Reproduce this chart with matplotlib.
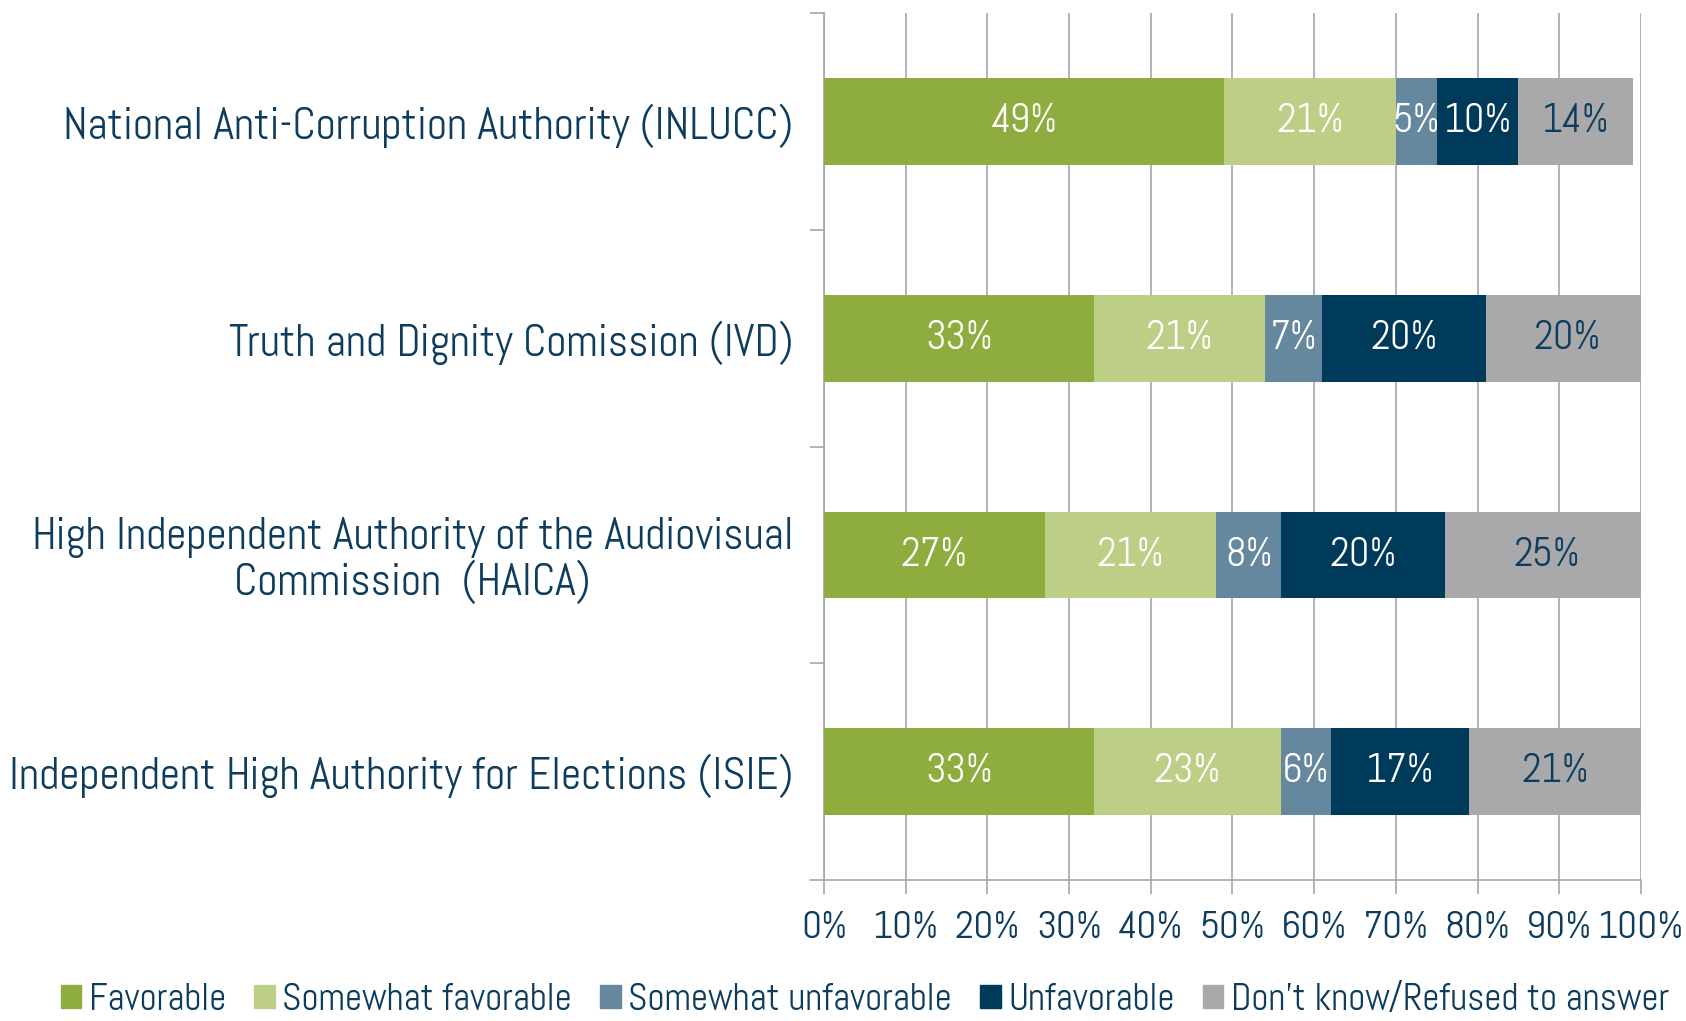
import numpy as np
import matplotlib.pyplot as plt
from matplotlib.patches import Patch

categories = [
    "National Anti-Corruption Authority (INLUCC)",
    "Truth and Dignity Comission (IVD)",
    "High Independent Authority of the Audiovisual\nCommission  (HAICA)",
    "Independent High Authority for Elections (ISIE)",
]
series_names = ["Favorable", "Somewhat favorable", "Somewhat unfavorable",
                "Unfavorable", "Don't know/Refused to answer"]
favorable = [49, 33, 27, 33]
somewhat_fav = [21, 21, 21, 23]
somewhat_unfav = [5, 7, 8, 6]
unfavorable = [10, 20, 20, 17]
dont_know = [14, 20, 25, 21]

colors = ["#8FAD3F", "#BDCF87", "#66889E", "#003A5A", "#A9A9AB"]
label_colors = ["white", "white", "white", "white", "#0D3C5C"]
navy = "#0D3C5C"
grid_c = "#A3A7B3"

plt.rcParams['font.family'] = ['Abel', 'Lato', 'DejaVu Sans']

fig = plt.figure(figsize=(16.86, 10.21), dpi=100)
ax = fig.add_axes([0.4887, 0.138, 0.4846, 0.849])

values = [favorable, somewhat_fav, somewhat_unfav, unfavorable, dont_know]
y = np.arange(len(categories))
left = np.zeros(len(categories))
for vals, col, lc, name in zip(values, colors, label_colors, series_names):
    vals = np.array(vals, dtype=float)
    ax.barh(y, vals, left=left, height=0.4, color=col, zorder=3, label=name)
    for yi, (l, v) in enumerate(zip(left, vals)):
        ax.text(l + v / 2, yi, f"{int(v)}%", ha="center", va="center",
                color=lc, fontsize=29, zorder=4)
    left += vals

ax.set_xlim(0, 100)
ax.set_ylim(len(categories) - 0.5, -0.5)
ax.set_xticks(np.arange(0, 101, 10))
ax.set_xticklabels([f"{t}%" for t in range(0, 101, 10)], color=navy, fontsize=28)
ax.tick_params(axis="x", length=10, color=grid_c, width=1.2, pad=12)
ax.set_yticks(y)
ax.set_yticklabels(categories, color=navy, fontsize=32)
for lbl in ax.get_yticklabels():
    lbl.set_multialignment("center")
    lbl.set_linespacing(1.05)
ax.tick_params(axis="y", length=0, pad=22)
ax.set_yticks(np.arange(-0.5, len(categories) + 0.5, 1), minor=True)
ax.tick_params(axis="y", which="minor", length=10, color=grid_c, width=1.2)
ax.grid(axis="x", color=grid_c, linewidth=1.2, zorder=0)
for s in ["top", "right"]:
    ax.spines[s].set_visible(False)
for s in ["left", "bottom"]:
    ax.spines[s].set_color(grid_c)
    ax.spines[s].set_linewidth(1.2)

handles = [Patch(color=c, label=n) for c, n in zip(colors, series_names)]
leg = fig.legend(handles=handles, loc="lower center", bbox_to_anchor=(0.513, -0.03),
                 ncol=5, frameon=False, fontsize=27, handlelength=0.55,
                 handleheight=0.55, handletextpad=0.2, columnspacing=0.75)
for t in leg.get_texts():
    t.set_color(navy)

fig.savefig("out.png", dpi=100)
